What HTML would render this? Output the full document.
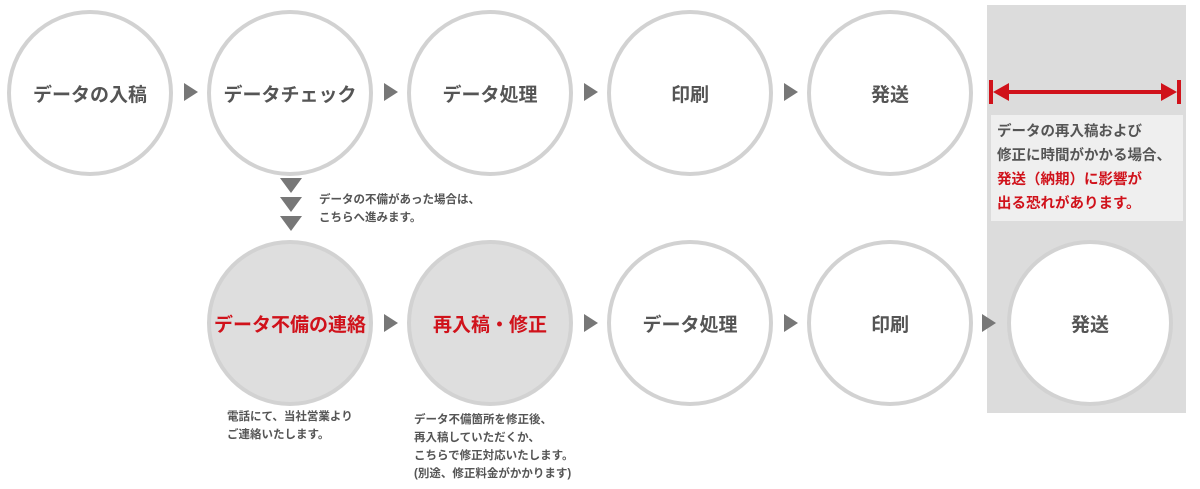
<!DOCTYPE html>
<html><head><meta charset="utf-8"><style>
body{margin:0;width:1200px;height:489px;background:#fff;position:relative;overflow:hidden;font-family:"Liberation Sans","Noto Sans CJK JP",sans-serif;font-weight:bold;}
.c{position:absolute;width:158px;height:158px;border:4px solid #d2d2d2;border-radius:50%;background:#fff;display:flex;align-items:center;justify-content:center;font-size:19px;color:#555;box-sizing:content-box;}
.g{background:#dedede;}
.r{color:#d0121b;}
.t{position:absolute;width:0;height:0;border-top:9px solid transparent;border-bottom:9px solid transparent;border-left:14px solid #777;}
.d{position:absolute;width:0;height:0;border-left:11px solid transparent;border-right:11px solid transparent;border-top:15px solid #777;}
.n{position:absolute;font-size:11.5px;color:#555;line-height:18px;}
</style></head><body>
<div style="position:absolute;left:987px;top:5px;width:199px;height:408px;background:#dcdcdc"></div>
<div class="c" style="left:7px;top:10px">データの入稿</div>
<div class="c" style="left:207px;top:10px">データチェック</div>
<div class="c" style="left:407px;top:10px">データ処理</div>
<div class="c" style="left:607px;top:10px">印刷</div>
<div class="c" style="left:807px;top:10px">発送</div>
<div class="t" style="left:184px;top:83px"></div>
<div class="t" style="left:384px;top:83px"></div>
<div class="t" style="left:584px;top:83px"></div>
<div class="t" style="left:784px;top:83px"></div>
<div class="d" style="left:280px;top:178px"></div>
<div class="d" style="left:280px;top:197px"></div>
<div class="d" style="left:280px;top:216px"></div>
<div class="n" style="left:319px;top:191px">データの不備があった場合は、<br>こちらへ進みます。</div>
<div class="c g r" style="left:207px;top:240px">データ不備の連絡</div>
<div class="c g r" style="left:407px;top:240px">再入稿・修正</div>
<div class="c" style="left:607px;top:240px">データ処理</div>
<div class="c" style="left:807px;top:240px">印刷</div>
<div class="c" style="left:1007px;top:240px">発送</div>
<div class="t" style="left:384px;top:314px"></div>
<div class="t" style="left:584px;top:314px"></div>
<div class="t" style="left:784px;top:314px"></div>
<div class="t" style="left:982px;top:314px"></div>
<div class="n" style="left:227px;top:408px">電話にて、当社営業より<br>ご連絡いたします。</div>
<div class="n" style="left:414px;top:411px">データ不備箇所を修正後、<br>再入稿していただくか、<br>こちらで修正対応いたします。<br>(別途、修正料金がかかります)</div>
<svg style="position:absolute;left:987px;top:78px" width="200" height="30">
<rect x="2" y="2" width="4" height="24" fill="#d0121b"/><rect x="190" y="2" width="4" height="24" fill="#d0121b"/>
<rect x="12" y="12" width="172" height="4" fill="#d0121b"/>
<polygon points="6,14 22,5 22,23" fill="#d0121b"/><polygon points="190,14 174,5 174,23" fill="#d0121b"/>
</svg>
<div style="position:absolute;left:991px;top:115px;width:192px;height:106px;background:#efefef;box-sizing:border-box;padding:5px 6px;font-size:14.5px;line-height:24px;color:#555;white-space:nowrap">データの再入稿および<br>修正に時間がかかる場合、<br><span class="r">発送（納期）に影響が<br>出る恐れがあります。</span></div>
</body></html>
